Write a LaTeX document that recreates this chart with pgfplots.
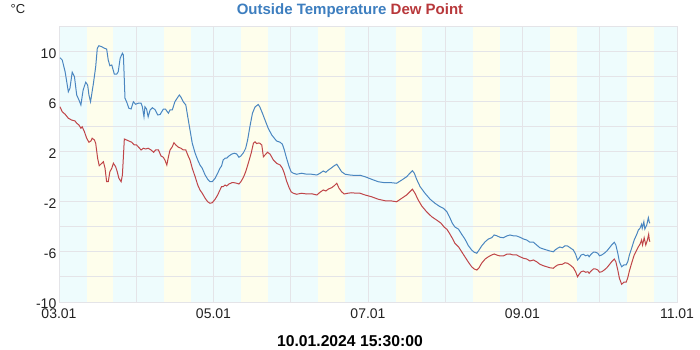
\documentclass[border=0pt]{standalone}
\usepackage{fontspec}
\setmainfont{Liberation Sans}
\usepackage{pgfplots}
\pgfplotsset{compat=1.18}
\definecolor{tblue}{HTML}{4A86C0}
\definecolor{tred}{HTML}{BF4548}
\definecolor{titleblue}{HTML}{3D7EBF}
\definecolor{titlered}{HTML}{B8383B}
\definecolor{bgcyan}{HTML}{EEFCFD}
\definecolor{bgyellow}{HTML}{FEFEEC}
\definecolor{gridc}{HTML}{E4E4E8}
\definecolor{tickc}{HTML}{222222}
\begin{document}
\begin{tikzpicture}
\begin{axis}[
  at={(59pt,48pt)}, anchor=south west,
  width=618pt, height=275pt, scale only axis,
  xmin=0, xmax=192, ymin=-10, ymax=12,
  xtick={0,48,96,144,192},
  xticklabels={03.01,05.01,07.01,09.01,11.01},
  ytick={-10,-6,-2,2,6,10},
  yticklabels={-10,-6,-2,2,6,10},
  axis line style={draw=gridc, line width=1pt},
  tick style={draw=none},
  ticklabel style={font=\fontsize{14}{14}\selectfont, text=tickc},
  xticklabel style={anchor=base, yshift=-16.3pt},
  yticklabel style={anchor=east, xshift=-0.5pt, yshift=-1.5pt, inner sep=2pt},
  axis background/.style={fill=bgcyan},
]
\addplot[fill=bgyellow, draw=none, forget plot] coordinates {(8.6,-10)(8.6,12)(16.9,12)(16.9,-10)};
\addplot[fill=bgyellow, draw=none, forget plot] coordinates {(32.6,-10)(32.6,12)(40.9,12)(40.9,-10)};
\addplot[fill=bgyellow, draw=none, forget plot] coordinates {(56.6,-10)(56.6,12)(64.9,12)(64.9,-10)};
\addplot[fill=bgyellow, draw=none, forget plot] coordinates {(80.6,-10)(80.6,12)(88.9,12)(88.9,-10)};
\addplot[fill=bgyellow, draw=none, forget plot] coordinates {(104.6,-10)(104.6,12)(112.9,12)(112.9,-10)};
\addplot[fill=bgyellow, draw=none, forget plot] coordinates {(128.6,-10)(128.6,12)(136.9,12)(136.9,-10)};
\addplot[fill=bgyellow, draw=none, forget plot] coordinates {(152.6,-10)(152.6,12)(160.9,12)(160.9,-10)};
\addplot[fill=bgyellow, draw=none, forget plot] coordinates {(176.6,-10)(176.6,12)(184.9,12)(184.9,-10)};
\pgfplotsinvokeforeach{24,48,72,96,120,144,168}{
  \draw[gridc, line width=1pt] (axis cs:#1,-10) -- (axis cs:#1,12);
}
\pgfplotsinvokeforeach{-8,-6,-4,-2,0,2,4,6,8,10}{
  \draw[gridc, line width=1pt] (axis cs:0,#1) -- (axis cs:192,#1);
}
\addplot[tblue, line width=1pt] coordinates {
(0.3,9.54)(1.0,9.36)(1.9,8.42)(2.9,6.82)(3.4,7.1)(4.1,8.38)(4.8,8.02)(5.5,6.56)(6.2,6.16)(6.8,5.76)
(7.5,6.96)(8.3,7.58)(8.9,7.36)(9.3,6.56)(9.8,6.02)(10.7,7.5)(11.4,8.82)(11.9,10.3)(12.4,10.5)(13.3,10.42)
(14.1,10.3)(14.8,10.24)(15.3,9.36)(15.8,8.9)(16.4,8.96)(17.2,8.22)(17.9,8.22)(18.4,8.42)(19.0,9.5)(19.7,9.9)
(20.0,9.76)(20.2,8.42)(20.5,6.3)(21.0,6.02)(21.7,5.5)(22.4,5.44)(23.1,6.02)(23.8,5.82)(24.6,5.9)(25.5,5.9)
(25.9,5.62)(26.4,4.82)(26.7,5.62)(27.2,5.44)(27.7,4.82)(28.3,5.36)(29.0,5.54)(29.8,5.4)(30.7,4.96)(31.4,5.0)
(32.4,5.42)(33.1,5.42)(34.0,5.1)(34.5,5.36)(35.2,5.36)(36.0,6.02)(36.9,6.38)(37.4,6.56)(37.9,6.38)(38.6,6.02)
(39.4,5.76)(40.0,4.82)(40.7,3.76)(41.4,2.7)(42.3,1.9)(43.1,1.36)(43.8,0.96)(44.5,0.7)(45.4,0.16)(46.2,-0.18)
(46.9,-0.38)(47.6,-0.38)(48.5,-0.1)(49.3,0.3)(50.0,0.7)(50.5,0.88)(51.0,1.36)(51.6,1.5)(52.1,1.5)(52.8,1.68)
(53.7,1.84)(54.5,1.9)(55.2,1.84)(55.9,1.58)(56.5,1.68)(57.3,1.94)(58.0,2.3)(58.6,2.96)(59.3,4.02)(60.1,5.1)
(60.9,5.6)(61.4,5.7)(61.9,5.8)(62.4,5.6)(63.2,5.1)(64.0,4.56)(65.0,3.9)(66.1,3.36)(66.9,3.1)(67.6,2.88)
(68.7,2.78)(69.4,2.62)(70.0,2.16)(70.7,1.5)(71.5,0.82)(72.1,0.42)(72.8,0.3)(73.8,0.22)(75.4,0.3)(77.0,0.22)
(78.5,0.22)(80.1,0.16)(81.1,0.3)(82.1,0.48)(82.9,0.38)(83.7,0.56)(84.7,0.74)(85.5,0.9)(86.3,1.02)(87.0,0.74)
(87.8,0.42)(88.9,0.22)(90.4,0.16)(92.0,0.12)(93.5,0.14)(95.1,0.02)(97.1,-0.18)(99.2,-0.38)(101.3,-0.46)(103.4,-0.46)
(104.9,-0.5)(106.5,-0.24)(108.0,0.02)(109.0,0.3)(109.8,0.5)(110.4,0.3)(111.1,-0.18)(112.2,-0.78)(113.7,-1.3)(115.3,-1.78)
(116.8,-2.1)(118.4,-2.38)(119.4,-2.5)(120.5,-2.78)(121.3,-3.18)(122.2,-3.7)(123.0,-4.0)(124.1,-4.17)(125.1,-4.58)(126.1,-4.96)
(127.2,-5.5)(128.2,-5.84)(129.0,-6.02)(129.8,-6.1)(130.5,-5.84)(131.3,-5.52)(132.4,-5.18)(133.4,-4.96)(134.4,-4.86)(135.2,-4.64)
(136.0,-4.7)(137.0,-4.82)(138.0,-4.86)(139.1,-4.72)(140.1,-4.64)(141.1,-4.7)(142.2,-4.72)(143.2,-4.82)(144.3,-4.96)(145.3,-5.04)
(146.3,-5.22)(147.4,-5.22)(148.4,-5.44)(149.4,-5.66)(150.5,-5.76)(151.5,-5.84)(152.5,-5.92)(153.6,-5.98)(154.1,-5.84)(154.9,-5.7)
(155.6,-5.6)(156.4,-5.66)(157.2,-5.5)(158.0,-5.52)(158.8,-5.66)(159.8,-5.84)(160.5,-6.18)(161.1,-6.64)(161.6,-6.5)(162.2,-6.24)
(162.9,-6.18)(163.6,-6.3)(164.3,-6.24)(164.7,-6.38)(165.3,-6.18)(166.0,-6.02)(166.7,-6.02)(167.4,-6.1)(167.9,-6.3)(168.6,-6.24)
(169.4,-6.1)(170.2,-5.92)(170.9,-5.7)(171.7,-5.44)(172.5,-5.22)(173.0,-5.44)(173.6,-6.1)(174.1,-6.78)(174.8,-7.18)(175.5,-7.04)
(176.2,-7.04)(176.7,-6.78)(177.2,-6.24)(177.9,-5.7)(178.7,-5.04)(179.5,-4.58)(180.0,-4.24)(180.5,-4.1)(181.0,-3.78)(181.2,-4.1)
(181.7,-3.58)(182.0,-4.16)(182.6,-3.84)(183.1,-3.26)(183.4,-3.62)(183.6,-3.7)
};
\addplot[tred, line width=1pt] coordinates {
(0.3,5.62)(1.0,5.22)(1.9,5.02)(2.9,4.7)(3.9,4.56)(5.0,4.48)(5.5,4.3)(6.2,4.16)(6.8,3.9)(7.2,4.02)
(7.9,3.62)(8.6,3.1)(9.3,2.78)(9.9,2.88)(10.3,3.1)(11.0,2.96)(11.4,2.7)(12.0,1.5)(12.5,0.9)(13.3,1.1)
(13.8,1.22)(14.3,0.7)(14.8,-0.38)(15.3,-0.38)(15.8,0.42)(16.4,0.7)(16.9,1.1)(17.6,0.82)(18.1,0.42)(18.6,-0.1)
(19.3,-0.38)(19.7,0.16)(20.3,3.04)(21.0,2.96)(21.7,2.88)(22.6,2.78)(23.4,2.56)(24.1,2.56)(24.9,2.34)(25.5,2.16)
(26.2,2.3)(26.9,2.24)(27.7,2.3)(28.6,2.16)(29.4,1.98)(30.0,2.16)(30.9,2.16)(31.7,1.68)(32.4,1.58)(32.9,1.36)
(33.5,0.96)(34.0,1.62)(34.5,2.16)(35.2,2.42)(35.7,2.74)(36.3,2.56)(37.1,2.38)(37.9,2.3)(38.6,2.16)(39.4,2.16)
(40.0,1.76)(40.7,1.36)(41.4,0.7)(42.3,0.02)(43.1,-0.64)(43.8,-1.04)(44.5,-1.3)(45.4,-1.7)(46.2,-1.98)(46.9,-2.1)
(47.6,-2.06)(48.5,-1.78)(49.3,-1.44)(50.0,-1.04)(50.5,-0.78)(51.0,-0.78)(51.6,-0.64)(52.1,-0.72)(52.8,-0.56)(53.7,-0.46)
(54.5,-0.46)(55.2,-0.5)(55.9,-0.56)(56.5,-0.38)(57.3,-0.02)(58.0,0.42)(58.8,1.1)(59.7,1.9)(60.4,2.7)(60.9,2.82)
(61.4,2.67)(61.9,2.72)(62.4,2.7)(63.0,2.56)(63.5,1.62)(64.0,1.76)(64.8,1.98)(65.6,1.82)(66.6,1.36)(67.6,1.1)
(68.7,0.96)(69.4,0.7)(70.0,0.3)(70.7,-0.32)(71.5,-0.86)(72.1,-1.18)(72.8,-1.3)(73.8,-1.38)(75.4,-1.3)(77.0,-1.36)
(78.5,-1.34)(80.1,-1.44)(81.1,-1.22)(82.1,-1.04)(82.9,-1.12)(83.7,-0.96)(84.7,-0.86)(85.5,-0.7)(86.3,-0.5)(87.0,-0.9)
(87.8,-1.18)(88.6,-1.36)(89.7,-1.3)(90.9,-1.26)(92.5,-1.3)(93.5,-1.3)(95.1,-1.44)(97.1,-1.58)(99.2,-1.78)(101.3,-1.9)
(103.4,-1.92)(104.9,-1.98)(106.5,-1.7)(108.0,-1.44)(109.0,-1.18)(109.8,-0.98)(110.6,-1.3)(111.6,-1.84)(112.7,-2.32)(114.2,-2.78)
(115.8,-3.18)(117.3,-3.44)(118.7,-3.7)(119.7,-4.02)(120.5,-4.18)(121.3,-4.5)(122.2,-4.9)(123.0,-5.3)(124.1,-5.58)(125.1,-5.98)
(126.1,-6.38)(127.2,-6.82)(128.2,-7.18)(129.0,-7.36)(129.8,-7.44)(130.5,-7.26)(131.3,-6.9)(132.4,-6.56)(133.4,-6.38)(134.4,-6.24)
(135.2,-6.16)(136.0,-6.24)(137.0,-6.32)(138.0,-6.32)(139.1,-6.18)(140.1,-6.16)(141.1,-6.24)(142.2,-6.24)(143.2,-6.38)(144.3,-6.5)
(145.3,-6.56)(146.3,-6.72)(147.4,-6.64)(148.4,-6.78)(149.4,-6.98)(150.5,-7.1)(151.5,-7.18)(152.5,-7.26)(153.6,-7.3)(154.1,-7.18)
(154.9,-7.04)(155.6,-7.0)(156.4,-6.98)(157.2,-6.86)(158.0,-6.9)(158.8,-7.04)(159.8,-7.26)(160.5,-7.58)(161.1,-7.98)(161.6,-7.78)
(162.2,-7.58)(162.9,-7.52)(163.6,-7.62)(164.3,-7.58)(164.7,-7.7)(165.3,-7.52)(166.0,-7.36)(166.7,-7.36)(167.4,-7.44)(167.9,-7.62)
(168.6,-7.58)(169.4,-7.44)(170.2,-7.26)(170.9,-7.04)(171.7,-6.78)(172.5,-6.56)(173.0,-6.78)(173.6,-7.44)(174.1,-8.1)(174.8,-8.58)
(175.5,-8.42)(176.2,-8.42)(176.7,-8.06)(177.2,-7.52)(177.9,-6.9)(178.7,-6.24)(179.5,-5.84)(180.0,-5.58)(180.5,-5.38)(181.0,-5.04)
(181.3,-5.44)(181.8,-4.86)(182.3,-5.44)(182.8,-5.04)(183.2,-4.58)(183.4,-5.04)(183.6,-5.18)
};
\end{axis}
\path[use as bounding box] (0pt,0pt) rectangle (700pt,350pt);
\node[font=\bfseries\fontsize{15}{15}\selectfont, anchor=base, inner sep=0pt] at (350pt,335pt) {\textcolor{titleblue}{Outside Temperature} \textcolor{titlered}{Dew Point}};
\node[font=\fontsize{13}{13}\selectfont, text=tickc, anchor=base west, inner sep=0pt] at (10.5pt,336.7pt) {°C};
\node[font=\bfseries\fontsize{15.7}{15.7}\selectfont, text=black, anchor=base, inner sep=0pt] at (350pt,3pt) {10.01.2024 15:30:00};
\end{tikzpicture}
\end{document}
